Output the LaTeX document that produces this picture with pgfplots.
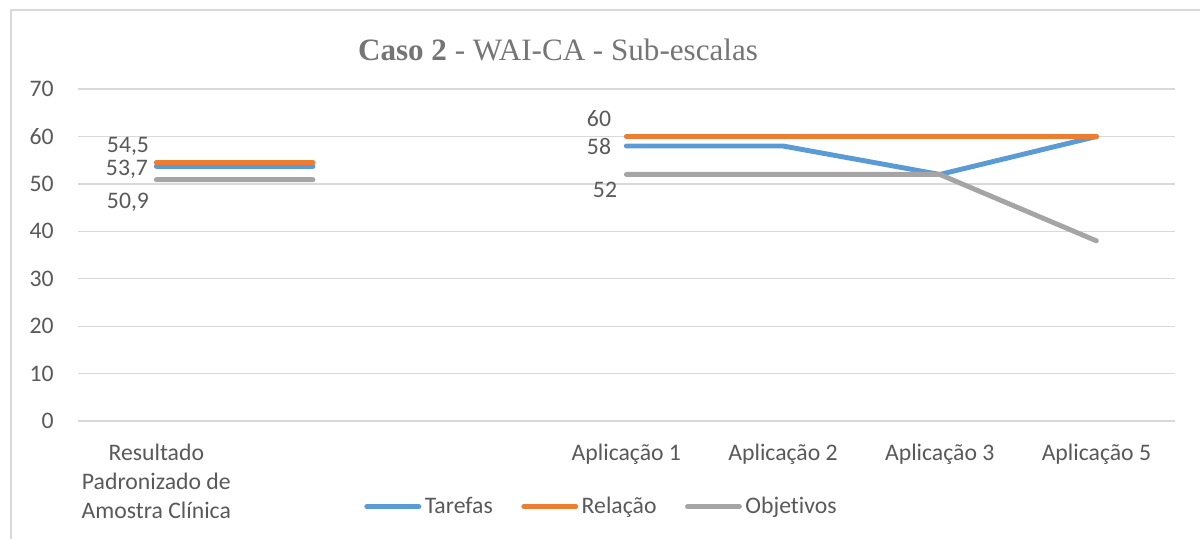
\documentclass[border=0pt]{standalone}
\usepackage{fontspec}
\setmainfont{Carlito}[Ligatures={NoCommon}]
\newfontfamily\titlefont{Liberation Serif}
\usepackage{pgfplots}
\pgfplotsset{compat=1.18}
\definecolor{cT}{HTML}{5B9BD5}
\definecolor{cR}{HTML}{ED7D31}
\definecolor{cO}{HTML}{A5A5A5}
\definecolor{txt}{HTML}{595959}
\definecolor{ttl}{HTML}{757575}
\definecolor{grd}{HTML}{D9D9D9}
\newcommand{\lblfont}{\fontsize{13.5}{16.4}\selectfont}
\begin{document}
\begin{tikzpicture}[x=0.02cm,y=0.02cm]
\path[use as bounding box] (0,0) rectangle (1200,538);
\draw[grd, line width=0.8pt] (11,-10) -- (11,528) -- (1220,528);
\node[font=\titlefont\fontsize{17.7}{20}\selectfont, text=ttl] at (558,488) {\textbf{Caso 2} - WAI-CA - Sub-escalas};
\begin{axis}[
  at={(1.56cm,2.34cm)}, anchor=south west,
  scale only axis, width=21.94cm, height=6.64cm,
  xmin=-0.5, xmax=6.5, ymin=0, ymax=70,
  ytick={0,10,...,70},
  xtick={0,3,4,5,6},
  xticklabels={{Resultado\\Padronizado de\\Amostra Clínica},Aplicação 1,Aplicação 2,Aplicação 3,Aplicação 5},
  ymajorgrids, grid style={grd, line width=0.7pt},
  axis line style={draw=none}, major tick length=0pt,
  /pgf/number format/assume math mode=true,
  tick label style={font=\lblfont, text=txt},
  yticklabel style={anchor=east, inner sep=0pt, xshift=-0.48cm},
  xticklabel style={anchor=north, inner sep=0pt, yshift=-0.46cm, align=center},
  unbounded coords=jump,
  legend columns=3,
  legend style={at={(0.478,-0.258)}, anchor=center, draw=none, fill=none, font=\lblfont, text=txt,
     /tikz/every even column/.append style={column sep=0.5cm}},
  legend image code/.code={\draw[#1, line cap=round] (0cm,0cm) -- (1.04cm,0cm);},
  every axis plot/.append style={line width=2.8pt, line cap=round, line join=round, no markers},
]
\addplot[cT] coordinates {(0,53.7) (1,53.7) (2,nan) (3,58) (4,58) (5,52) (6,60)};
\addlegendentry{Tarefas}
\addplot[cR] coordinates {(0,54.5) (1,54.5) (2,nan) (3,60) (4,60) (5,60) (6,60)};
\addlegendentry{Relação}
\addplot[cO] coordinates {(0,50.9) (1,50.9) (2,nan) (3,52) (4,52) (5,52) (6,38)};
\addlegendentry{Objetivos}
\begin{scope}[every node/.style={font=\lblfont, text=txt, anchor=east, inner sep=0pt}]
\node[xshift=-0.14cm, yshift=0.32cm] at (axis cs:0,54.5) {54,5};
\node[xshift=-0.16cm, yshift=-0.06cm] at (axis cs:0,53.7) {53,7};
\node[xshift=-0.14cm, yshift=-0.45cm] at (axis cs:0,50.9) {50,9};
\node[xshift=-0.30cm, yshift=0.35cm] at (axis cs:3,60) {60};
\node[xshift=-0.30cm, yshift=0cm] at (axis cs:3,58) {58};
\node[xshift=-0.18cm, yshift=-0.30cm] at (axis cs:3,52) {52};
\end{scope}
\end{axis}
\end{tikzpicture}
\end{document}
